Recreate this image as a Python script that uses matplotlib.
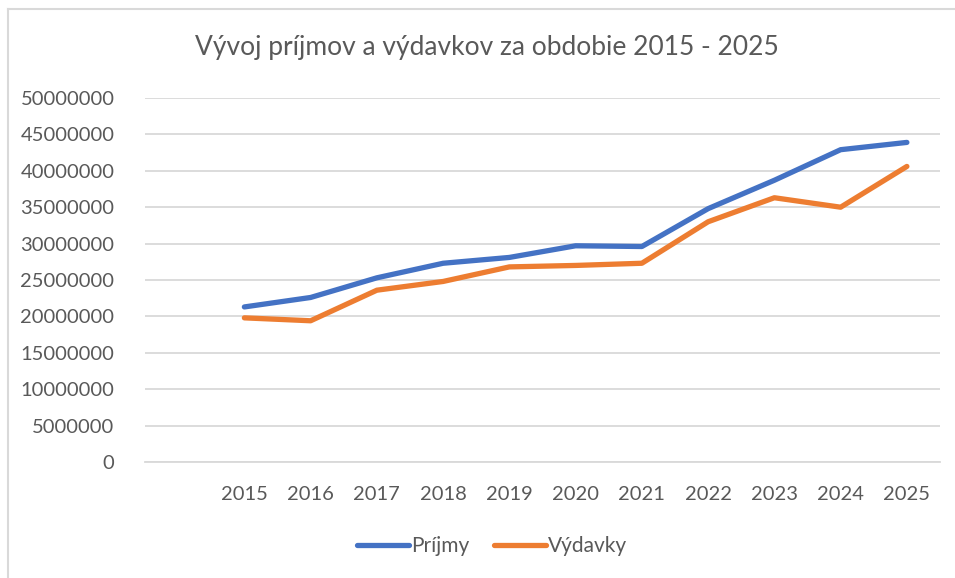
import numpy as np
import matplotlib
matplotlib.use("Agg")
import matplotlib.pyplot as plt
from matplotlib.lines import Line2D

# first category is empty in the source sheet
categories = ["", "2015", "2016", "2017", "2018", "2019", "2020",
              "2021", "2022", "2023", "2024", "2025"]
prijmy = [np.nan, 21.3e6, 22.6e6, 25.3e6, 27.3e6, 28.1e6, 29.7e6,
          29.6e6, 34.8e6, 38.7e6, 42.9e6, 43.9e6]
vydavky = [np.nan, 19.8e6, 19.4e6, 23.6e6, 24.8e6, 26.8e6, 27.0e6,
           27.3e6, 33.0e6, 36.3e6, 35.0e6, 40.6e6]
y_ticks = [0, 5e6, 10e6, 15e6, 20e6, 25e6, 30e6, 35e6, 40e6, 45e6, 50e6]

BLUE = "#4472C4"
ORANGE = "#ED7D31"
GRID = "#D9D9D9"
TEXT = "#595959"

plt.rcParams['font.family'] = ['Lato', 'DejaVu Sans']

fig = plt.figure(figsize=(9.55, 5.78), dpi=100)
ax = fig.add_axes([145 / 955, 1 - 462 / 578, 795 / 955, 364 / 578])

x = np.arange(len(categories))
ax.plot(x, prijmy, color=BLUE, lw=3.8, solid_capstyle='round', solid_joinstyle='round', label="Príjmy")
ax.plot(x, vydavky, color=ORANGE, lw=3.8, solid_capstyle='round', solid_joinstyle='round', label="Výdavky")

ax.set_xlim(-0.5, len(categories) - 0.5)
ax.set_ylim(0, 50e6)
ax.set_xticks(x)
ax.set_xticklabels(categories)
ax.set_yticks(y_ticks)
ax.set_yticklabels([f"{int(v)}" for v in y_ticks])
ax.grid(axis='y', color=GRID, lw=1.3)
ax.set_axisbelow(True)
for s in ['top', 'right', 'left']:
    ax.spines[s].set_visible(False)
ax.spines['bottom'].set_color(GRID)
ax.spines['bottom'].set_linewidth(1.3)
ax.tick_params(axis='both', length=0, labelsize=14.5, labelcolor=TEXT)
ax.tick_params(axis='y', pad=22)
ax.tick_params(axis='x', pad=17)

fig.text(487 / 955, 1 - 47 / 578, "Vývoj príjmov a výdavkov za obdobie 2015 - 2025",
         ha='center', va='center', fontsize=19, color=TEXT)

handles = [Line2D([0], [0], color=BLUE, lw=3.8, solid_capstyle='round'),
           Line2D([0], [0], color=ORANGE, lw=3.8, solid_capstyle='round')]
fig.legend(handles, ["Príjmy", "Výdavky"], loc='center', bbox_to_anchor=(492 / 955, 1 - 546 / 578),
           ncol=2, frameon=False, fontsize=15, labelcolor=TEXT, handlelength=2.5,
           handletextpad=0.1, columnspacing=1.2)

# chart frame (top and left edges visible in the crop)
fig.add_artist(Line2D([7.5 / 955, 1], [1 - 8.5 / 578, 1 - 8.5 / 578], color=GRID, lw=1.5))
fig.add_artist(Line2D([7.5 / 955, 7.5 / 955], [0, 1 - 8.5 / 578], color=GRID, lw=1.5))

fig.savefig("out.png", dpi=100)
